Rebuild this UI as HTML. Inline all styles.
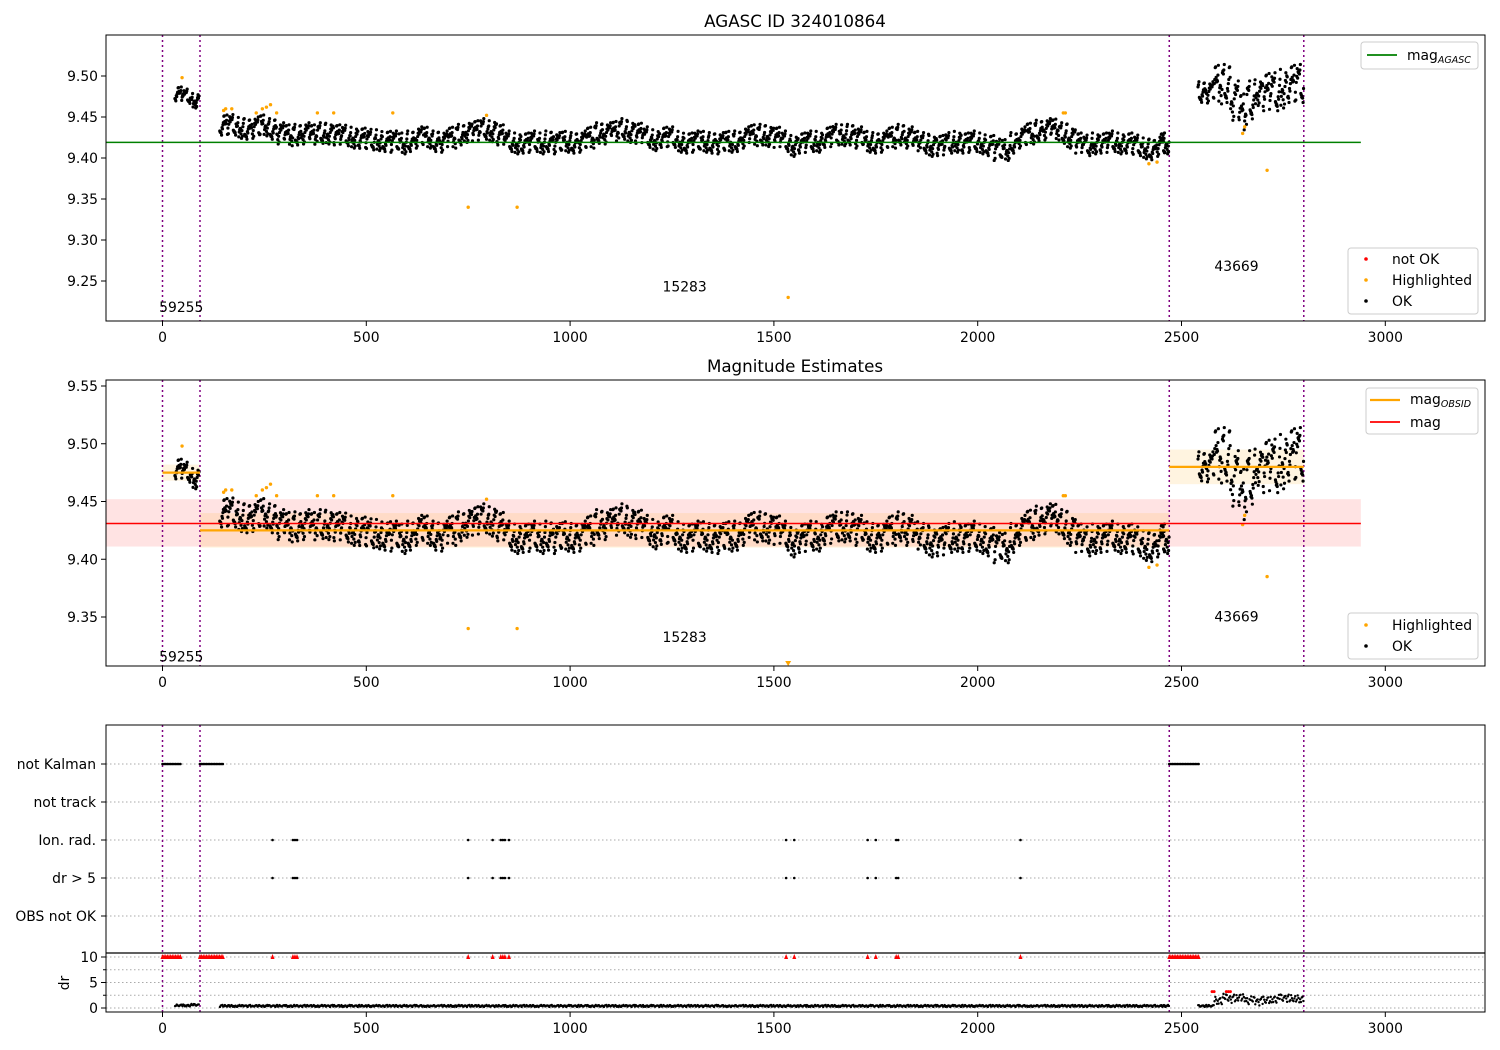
<!DOCTYPE html>
<html><head><meta charset="utf-8">
<style>
html,body{margin:0;padding:0;background:#fff;}
svg{display:block;font-family:"DejaVu Sans","Liberation Sans",sans-serif;}
</style></head>
<body>
<svg id="fig" width="1500" height="1050" viewBox="0 0 1500 1050" xmlns="http://www.w3.org/2000/svg"></svg>
<script>
// ---------------- data ----------------
const binT = [40,60,80,
150,170,190,210,230,250,270,290,310,330,350,370,390,410,430,450,470,490,510,530,550,570,590,610,630,650,670,690,710,730,750,770,790,810,830,850,870,890,910,930,950,970,990,1010,1030,1050,1070,1090,1110,1130,1150,1170,1190,1210,1230,1250,1270,1290,1310,1330,1350,1370,1390,1410,1430,1450,1470,1490,1510,1530,1550,1570,1590,1610,1630,1650,1670,1690,1710,1730,1750,1770,1790,1810,1830,1850,1870,1890,1910,1930,1950,1970,1990,2010,2030,2050,2070,2090,2110,2130,2150,2170,2190,2210,2230,2250,2270,2290,2310,2330,2350,2370,2390,2410,2430,2450,2460,
2550,2570,2590,2610,2630,2650,2670,2690,2710,2730,2750,2770,2790];
const binMag = [9.478,9.475,9.470,
9.440,9.440,9.437,9.435,9.437,9.440,9.435,9.430,9.428,9.428,9.430,9.428,9.430,9.430,9.428,9.427,9.425,9.424,9.422,9.422,9.420,9.420,9.418,9.420,9.425,9.425,9.420,9.420,9.425,9.428,9.432,9.433,9.435,9.433,9.428,9.420,9.418,9.418,9.420,9.418,9.420,9.418,9.420,9.418,9.420,9.425,9.430,9.430,9.432,9.435,9.432,9.430,9.425,9.422,9.425,9.425,9.420,9.418,9.420,9.420,9.418,9.418,9.420,9.420,9.425,9.428,9.428,9.427,9.425,9.420,9.415,9.418,9.420,9.420,9.425,9.428,9.428,9.428,9.425,9.420,9.418,9.420,9.425,9.428,9.425,9.420,9.418,9.415,9.415,9.418,9.420,9.418,9.420,9.418,9.415,9.410,9.410,9.418,9.425,9.430,9.433,9.435,9.435,9.430,9.425,9.418,9.415,9.418,9.418,9.420,9.418,9.418,9.415,9.412,9.410,9.415,9.418,
9.480,9.480,9.490,9.490,9.470,9.455,9.470,9.480,9.480,9.480,9.485,9.490,9.490];
const binSpread = [0.009,0.009,0.009].concat(new Array(119).fill(0.013)).concat([0.024,0.024,0.024,0.024,0.024,0.016,0.024,0.024,0.024,0.024,0.024,0.024,0.024]);
const binDr = [0.5,0.5,0.6].concat(new Array(119).fill(0.4)).concat([1.5,2.0,1.8,2.0,1.5,1.3,1.5,1.8,2.0,1.8,1.8,1.5,1.5]);
const hlT = [48,150,155,170,230,245,255,265,280,380,420,565,750,795,870,1535,2210,2215,2420,2440,2650,2655,2710];
const hlMag = [9.498,9.458,9.460,9.460,9.455,9.460,9.462,9.465,9.455,9.455,9.455,9.455,9.340,9.452,9.340,9.230,9.455,9.455,9.393,9.395,9.430,9.438,9.385];
const ionT = [270,320,325,330,750,810,830,835,840,850,1530,1550,1730,1750,1800,1805,2105];
const kalStart = [0,92,2470];
const kalEnd = [45,150,2545];
const obsStart = [0,92,2470];
const obsEnd = [92,2470,2800];
const obsMean = [9.475,9.425,9.480];
const obsLo = [9.468,9.410,9.465];
const obsHi = [9.482,9.440,9.495];
const obsIds = ["59255","15283","43669"];
const vlines = [0,92,2470,2800];
const xTicks = [0,500,1000,1500,2000,2500,3000];
const y1Ticks = [9.25,9.30,9.35,9.40,9.45,9.50];
const y2Ticks = [9.35,9.40,9.45,9.50,9.55];
const cats = ["not Kalman","not track","Ion. rad.","dr > 5","OBS not OK"];
const drTicks = [0,5,10];
const magAgasc = 9.419, magAll = 9.431, magLo = 9.411, magHi = 9.452;
const jit = [-0.62,0.31,-0.18,0.84,-0.47,0.09,0.96,-0.35,0.52,-1.0,0.21,-0.71,0.63,-0.06,0.88,-0.54,0.4,-0.86,0.03,0.72,-0.27,0.15,-0.93,0.58,-0.12,0.35,-0.66,0.79,-0.41,0.24,1.0,-0.8,0.46,-0.22,0.67,-0.58,0.11];

// ---------------- helpers ----------------
const NS="http://www.w3.org/2000/svg";
const svg=document.getElementById('fig');
function el(tag,attrs,parent){const e=document.createElementNS(NS,tag);for(const k in attrs)e.setAttribute(k,attrs[k]);(parent||svg).appendChild(e);return e;}
const X0=106,X1=1485;
const xs=t=>162.5+t*0.4076;
function mkY(v0,p0,v1,p1){return v=>p0+(v-v0)*(p1-p0)/(v1-v0);}
const P1={top:35,bot:321,y:mkY(9.50,76,9.25,281)};
const P2={top:380,bot:666,y:mkY(9.55,386,9.35,617)};
const P3={top:725,bot:953};
const catY=i=>764+i*38;
const dY=mkY(0,1008,10,957);

function clip(id,top,bot){const d=el('defs',{});const c=el('clipPath',{id:id},d);el('rect',{x:X0,y:top,width:X1-X0,height:bot-top},c);}
clip('c1',P1.top,P1.bot);clip('c2',P2.top,P2.bot);clip('c3',P3.top,1012);

function xAxis(bot,name){
  const g=el('g',{});
  
  
  xTicks.forEach(t=>{
    el('line',{x1:xs(t),x2:xs(t),y1:bot,y2:bot+5,stroke:'#000','stroke-width':1},g);
    const tx=el('text',{x:xs(t),y:bot+21,'font-size':13.9,'text-anchor':'middle'},g);tx.textContent=t;
  });
}
function yAxis(ticks,yf,name,fmt){
  const g=el('g',{});
  
  
  ticks.forEach(v=>{
    el('line',{x1:X0-5,x2:X0,y1:yf(v),y2:yf(v),stroke:'#000'},g);
    const tx=el('text',{x:X0-8,y:yf(v)+5,'font-size':13.9,'text-anchor':'end'},g);tx.textContent=fmt(v);
  });
}
function frame(top,bot,name){
  const r=el('rect',{x:X0,y:top,width:X1-X0,height:bot-top,fill:'none',stroke:'#000','stroke-width':1});
  
  
}
function vl(g,top,bot){vlines.forEach(t=>el('line',{x1:xs(t),x2:xs(t),y1:top,y2:bot,stroke:'#800080','stroke-width':1.5,'stroke-dasharray':'2,3'},g));}
function scatter(g,yf){
  const N=18;
  for(let b=0;b<binT.length;b++){
    for(let k=0;k<N;k++){
      const t=binT[b]-10+k*(20/N)+0.5;
      const v=binMag[b]+binSpread[b]*jit[(k*11+b*5)%jit.length];
      el('circle',{cx:xs(t),cy:yf(v),r:1.6,fill:'#000'},g);
    }
  }
}
function highlights(g,yf){hlT.forEach((t,i)=>el('circle',{cx:xs(t),cy:yf(hlMag[i]),r:1.7,fill:'orange'},g));}
function obsLabels(g,yf,vals){obsIds.forEach((id,i)=>{const tx=el('text',{x:xs((obsStart[i]+obsEnd[i])/2),y:yf(vals[i]),'font-size':13.9,'text-anchor':'middle'},g);tx.textContent=id;});}
function txt(x,y,s,size,anchor,name){const t=el('text',{x:x,y:y,'font-size':size,'text-anchor':anchor||'start'});t.textContent=s;return t;}

// ---------------- panel 1 ----------------
txt(795,27,'AGASC ID 324010864',16.7,'middle','top-chart-title');
let g1=el('g',{'clip-path':'url(#c1)'});


vl(g1,P1.top,P1.bot);
scatter(g1,P1.y);
highlights(g1,P1.y);
el('line',{x1:X0,x2:xs(2940),y1:P1.y(magAgasc),y2:P1.y(magAgasc),stroke:'green','stroke-width':1.5},g1);
obsLabels(g1,P1.y,[9.212,9.237,9.262]);
frame(P1.top,P1.bot,'top-axes-frame');
xAxis(P1.bot,'top-x-axis');
yAxis(y1Ticks,P1.y,'top-y-axis',v=>v.toFixed(2));
let lg=el('g',{});


el('rect',{x:1361,y:42,width:117,height:27,rx:3,fill:'#fff',stroke:'#ccc'},lg);
el('line',{x1:1367,x2:1397,y1:55,y2:55,stroke:'green','stroke-width':1.8},lg);
let t1=el('text',{x:1407,y:60,'font-size':13.9},lg);t1.innerHTML='mag<tspan font-size="9.5" font-style="italic" dy="3">AGASC</tspan>';
let lg2=el('g',{});


el('rect',{x:1348,y:248,width:130,height:66,rx:3,fill:'#fff',stroke:'#ccc'},lg2);
[['red','not OK',259],['orange','Highlighted',280],['#000','OK',301]].forEach(e=>{el('circle',{cx:1366,cy:e[2],r:1.8,fill:e[0]},lg2);const t=el('text',{x:1392,y:e[2]+5,'font-size':13.9},lg2);t.textContent=e[1];});

// ---------------- panel 2 ----------------
txt(795,372,'Magnitude Estimates',16.7,'middle','middle-chart-title');
let g2=el('g',{'clip-path':'url(#c2)'});


el('rect',{x:X0,y:P2.y(magHi),width:xs(2940)-X0,height:P2.y(magLo)-P2.y(magHi),fill:'red','fill-opacity':0.11},g2);
obsStart.forEach((s,i)=>el('rect',{x:xs(s),y:P2.y(obsHi[i]),width:xs(obsEnd[i])-xs(s),height:P2.y(obsLo[i])-P2.y(obsHi[i]),fill:'orange','fill-opacity':0.12},g2));
vl(g2,P2.top,P2.bot);
scatter(g2,P2.y);
highlights(g2,P2.y);
el('polygon',{points:`${xs(1535)-3},${P2.bot-5} ${xs(1535)+3},${P2.bot-5} ${xs(1535)},${P2.bot}`,fill:'orange'},g2);
obsStart.forEach((s,i)=>el('line',{x1:xs(s),x2:xs(obsEnd[i]),y1:P2.y(obsMean[i]),y2:P2.y(obsMean[i]),stroke:'orange','stroke-width':2.2},g2));
el('line',{x1:X0,x2:xs(2940),y1:P2.y(magAll),y2:P2.y(magAll),stroke:'red','stroke-width':1.5},g2);
obsLabels(g2,P2.y,[9.3115,9.3285,9.346]);
frame(P2.top,P2.bot,'middle-axes-frame');
xAxis(P2.bot,'middle-x-axis');
yAxis(y2Ticks,P2.y,'middle-y-axis',v=>v.toFixed(2));
let lg3=el('g',{});


el('rect',{x:1366,y:388,width:112,height:46,rx:3,fill:'#fff',stroke:'#ccc'},lg3);
el('line',{x1:1370,x2:1400,y1:400,y2:400,stroke:'orange','stroke-width':2.2},lg3);
let t3=el('text',{x:1410,y:404,'font-size':13.9},lg3);t3.innerHTML='mag<tspan font-size="9.5" font-style="italic" dy="3">OBSID</tspan>';
el('line',{x1:1370,x2:1400,y1:422,y2:422,stroke:'red','stroke-width':1.8},lg3);
let t4=el('text',{x:1410,y:427,'font-size':13.9},lg3);t4.textContent='mag';
let lg4=el('g',{});


el('rect',{x:1348,y:613,width:130,height:46,rx:3,fill:'#fff',stroke:'#ccc'},lg4);
[['orange','Highlighted',625],['#000','OK',646]].forEach(e=>{el('circle',{cx:1366,cy:e[2],r:1.8,fill:e[0]},lg4);const t=el('text',{x:1392,y:e[2]+5,'font-size':13.9},lg4);t.textContent=e[1];});

// ---------------- panel 3 ----------------
let g3=el('g',{'clip-path':'url(#c3)'});


cats.forEach((c,i)=>el('line',{x1:X0,x2:X1,y1:catY(i),y2:catY(i),stroke:'#aaa','stroke-dasharray':'1.5,2.5'},g3));
[0,2.5,5,7.5,10].forEach(v=>el('line',{x1:X0,x2:X1,y1:dY(v),y2:dY(v),stroke:'#aaa','stroke-dasharray':'1.5,2.5'},g3));
vl(g3,P3.top,1012);
kalStart.forEach((s,i)=>{for(let t=s;t<=kalEnd[i];t+=4){el('circle',{cx:xs(t),cy:catY(0),r:1.3,fill:'#000'},g3);
  el('polygon',{points:`${xs(t)-2},${dY(10)+2} ${xs(t)+2},${dY(10)+2} ${xs(t)},${dY(10)-3}`,fill:'red'},g3);}});
ionT.forEach(t=>{el('circle',{cx:xs(t),cy:catY(2),r:1.3,fill:'#000'},g3);el('circle',{cx:xs(t),cy:catY(3),r:1.3,fill:'#000'},g3);
  el('polygon',{points:`${xs(t)-2},${dY(10)+2} ${xs(t)+2},${dY(10)+2} ${xs(t)},${dY(10)-3}`,fill:'red'},g3);});
for(let b=0;b<binT.length;b++){for(let k=0;k<10;k++){const t=binT[b]-10+k*2+1;const v=binDr[b]+(binDr[b]>1?0.8:0.2)*jit[(k*7+b*3)%jit.length];
  el('circle',{cx:xs(t),cy:dY(v),r:1.2,fill:'#000'},g3);}}
[2575,2580,2610,2615,2620].forEach((t,i)=>el('circle',{cx:xs(t),cy:dY(3.2),r:1.5,fill:'red'},g3));
el('line',{x1:X0,x2:X1,y1:953,y2:953,stroke:'#000','stroke-width':1.2});
frame(P3.top,1012,'bottom-axes-frame');
xAxis(1012,'bottom-x-axis');
let ya=el('g',{});


cats.forEach((c,i)=>{el('line',{x1:X0-5,x2:X0,y1:catY(i),y2:catY(i),stroke:'#000'},ya);const t=el('text',{x:X0-10,y:catY(i)+5,'font-size':13.9,'text-anchor':'end'},ya);t.textContent=c;});
yAxis(drTicks,dY,'dr-y-axis',v=>String(v));
[2.5,7.5].forEach(v=>el('line',{x1:X0-3,x2:X0,y1:dY(v),y2:dY(v),stroke:'#000'}));
let dl=txt(0,0,'dr',13.9,'middle','dr-axis-title');dl.setAttribute('transform','translate(69,983) rotate(-90)');
</script>
</body></html>
